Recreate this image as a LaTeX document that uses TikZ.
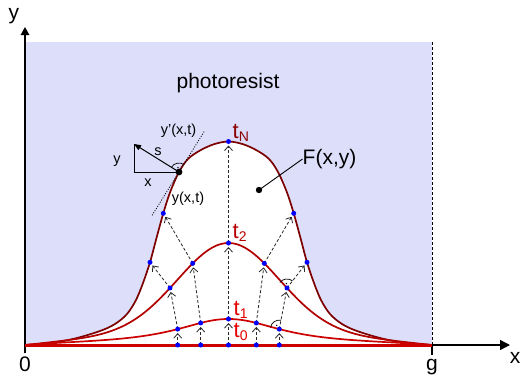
\documentclass[tikz,border=0pt]{standalone}
\usepackage{fontspec}
\setmainfont{Liberation Sans}
\usetikzlibrary{arrows.meta,calc}
\definecolor{resist}{RGB}{220,222,250}
\definecolor{cN}{RGB}{125,0,0}
\definecolor{cB}{RGB}{178,0,0}
\definecolor{cA}{RGB}{205,0,0}
\definecolor{cNl}{RGB}{140,0,0}
\definecolor{cBl}{RGB}{185,0,0}
\definecolor{cAl}{RGB}{230,0,0}
\definecolor{dotblue}{RGB}{0,0,255}
\newcommand\mysub[1]{\raisebox{-3pt}{\fontsize{14}{15}\selectfont #1}}
\begin{document}
\begin{tikzpicture}[x=1pt,y=-1pt,
  declare function={
    ga(\d)=26*(1-pow((abs(\d)+0.01)/203.5,8))/(1+pow((abs(\d)+0.01)/63,2.1));
    gb(\d)=102*(1-pow((abs(\d)+0.01)/203.5,8))*(0.85*exp(-(\d/70.71)*(\d/70.71))+0.15*exp(-(\d/155.56)*(\d/155.56)));
  },
  lab/.style={inner sep=0pt,font=\fontsize{21}{24}\selectfont},
  small/.style={inner sep=0pt,font=\fontsize{14.5}{17}\selectfont},
  tl/.style={inner sep=0pt,anchor=base west,font=\fontsize{22}{24}\selectfont},
  axis/.style={line width=1.4pt,black},
  flow/.style={draw=black!85,line width=0.8pt,dash pattern=on 3pt off 2pt,
    -{Straight Barb[length=4.5pt,width=8pt]},shorten >=4pt},
  tri/.style={line width=1pt,black},
  rmark/.style={line width=0.7pt,black},
  bdot/.style={fill=dotblue},
]
\useasboundingbox (0,0) rectangle (520,381);

% photoresist region
\fill[resist] (25,42) rectangle (432,345);
% developed profile t_N
\path[fill=white,draw=cN,line width=1.7pt]
  plot[smooth,tension=0.55] coordinates {
  (25,345) (50,343.3) (75,338.5) (100,331) (115,324) (127,314) (136,300)
  (143,283) (150,262.3) (156.5,238) (163.3,213.3) (170,192.5) (179,172)
  (188,159) (200,150.5) (214,144.2) (228.5,141.5)
  (243,144.2) (257,150.5) (269,159) (278,172) (287,192.5) (293.7,213.3)
  (300.5,238) (307,262.3) (314,283) (321,300) (330,314) (342,324)
  (357,331) (382,338.5) (407,343.3) (432,345)} -- cycle;
% t_2 and t_1 profiles
\draw[cB,line width=1.7pt] plot[domain=25:432,samples=160] (\x,{345-gb(\x-228.5)});
\draw[cA,line width=1.7pt] plot[domain=25:432,samples=160] (\x,{345-ga(\x-228.5)});

% boundary g
\coordinate (gtop) at (432,42);
\coordinate (g) at (432,345);
\coordinate (gtick) at (432,355);
\draw[black,line width=0.8pt,dash pattern=on 3pt off 2pt] (gtop) -- (g);

% axes
\coordinate (O) at (25,345);
\coordinate (Otick) at (25,353);
\coordinate (ytop) at (25,27);
\coordinate (xend) at (510,345);
\draw[axis,-{Triangle[length=8pt,width=8.5pt]}] (Otick) -- (ytop);
\draw[axis,-{Triangle[length=10pt,width=10pt]}] (O) -- (xend);
\draw[axis] (g) -- (gtick);

% t_0 profile
\draw[cA,line width=3pt] (O) -- (g);

% points
\foreach \i/\xx in {1/177.7,2/200.7,3/228.5,4/256.3,5/279.3}{
  \coordinate (a\i) at (\xx,345);
  \coordinate (b\i) at (\xx,{345-ga(\xx-228.5)});
}
\foreach \i/\xx in {1/170,2/192.7,3/228.5,4/264.3,5/287}{
  \coordinate (c\i) at (\xx,{345-gb(\xx-228.5)});
}
\coordinate (n1) at (150,262.3);
\coordinate (n2) at (163.3,213.3);
\coordinate (n3) at (228.5,141.5);
\coordinate (n4) at (293.7,213.3);
\coordinate (n5) at (307,262.3);

% flow arrows
\foreach \i in {1,...,5}{
  \draw[flow] (a\i) -- (b\i);
  \draw[flow] (b\i) -- (c\i);
  \draw[flow] (c\i) -- (n\i);
}

% right-angle marks on the arrows
\draw[rmark] ($(b5)+(-79.4:9)$) arc[start angle=-79.4,end angle=-169.4,radius=9];
\fill ($(b5)+(-124.4:4.5)$) circle[radius=0.8];
\draw[rmark] ($(c5)+(-52:9)$) arc[start angle=-52,end angle=-142,radius=9];
\fill ($(c5)+(-97:4.5)$) circle[radius=0.8];

% tangent and normal at y(x,t)
\coordinate (P) at (179,172);
\coordinate (Q) at (134,144);
\coordinate (R) at (134,172);
\coordinate (T1) at (152.1,215.3);
\coordinate (T2) at (204.9,130.4);
\draw[black,line width=0.8pt,dash pattern=on 1pt off 1.5pt] (T1) -- (T2);
\draw[tri] (Q) -- (R) -- (P);
\draw[tri,-{Triangle[length=7pt,width=5.5pt]}] (P) -- (Q);
\draw[rmark] ($(P)+(-58.1:9)$) arc[start angle=-58.1,end angle=-148.1,radius=9];
\fill ($(P)+(-103.1:4.5)$) circle[radius=0.8];

% blue dots
\foreach \i in {1,...,5}{
  \fill[bdot] (a\i) circle[radius=2.5];
  \fill[bdot] (b\i) circle[radius=2.5];
  \fill[bdot] (c\i) circle[radius=2.5];
  \fill[bdot] (n\i) circle[radius=2.5];
}
\fill[black] (P) circle[radius=3.4];

% F(x,y)
\coordinate (F) at (259,190);
\node[lab,anchor=west] (lF) at (302.5,159) {F(x,y)};
\draw[black,line width=0.9pt] (F) -- (lF.west);
\fill[black] (F) circle[radius=3.2];

% labels
\node[lab] (ly) at (14,16) {y};
\node[lab] (lx) at (515,358) {x};
\node[lab] (l0) at (25,364.5) {0};
\node[lab] (lg) at (432,367.5) {g};
\node[lab] (lpr) at (228,83.5) {photoresist};
\node[small] (lyp) at (178.5,131) {y'(x,t)};
\node[small] (lyx) at (188,198.5) {y(x,t)};
\node[small] (ls) at (158,151.5) {s};
\node[small] (lxs) at (148,183) {x};
\node[small] (lys) at (117,161) {y};
\node[tl,text=cNl] (ltN) at (232.5,138) {t\mysub{N}};
\node[tl,text=cBl] (lt2) at (232.5,238) {t\mysub{2}};
\node[tl,text=cAl] (lt1) at (233.5,315) {t\mysub{1}};
\node[tl,text=cAl] (lt0) at (233.5,337) {t\mysub{0}};
\end{tikzpicture}
\end{document}
